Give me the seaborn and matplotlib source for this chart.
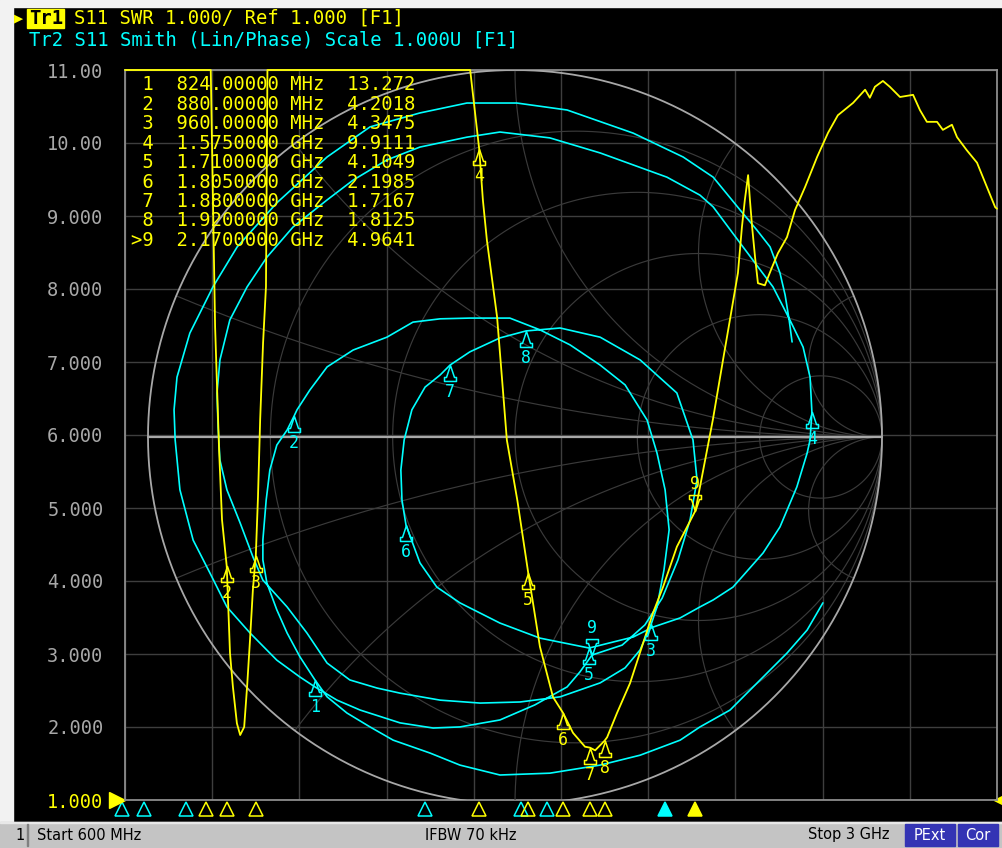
import numpy as np
import matplotlib
matplotlib.use("Agg")
import matplotlib.pyplot as plt
import matplotlib.transforms as mtransforms
from matplotlib.patches import Rectangle
from matplotlib.path import Path
import seaborn as sns

W, H = 1003, 848
YELLOW = "#ffff00"
CYAN = "#00ffff"
GRID = "#3e3e3e"
MONO = ["DejaVu Sans Mono", "DejaVu Sans"]

# Tr1: SWR against frequency (MHz); values above 11 run off the top of the scale
swr_freq = [600, 700, 800, 824, 836, 848, 859, 867, 880, 889, 897, 908, 917, 928,
            936, 944, 952, 960, 966, 972, 980, 988, 992, 1100, 1300, 1500, 1550,
            1575, 1585, 1596, 1624, 1638, 1651, 1680, 1710, 1742, 1778, 1805, 1833,
            1866, 1880, 1894, 1920, 1927, 1954, 1990, 2026, 2053, 2081, 2119, 2170,
            2218, 2246, 2265, 2287, 2298, 2306, 2315, 2320, 2326, 2334, 2342, 2361,
            2381, 2397, 2422, 2444, 2472, 2505, 2535, 2562, 2604, 2637, 2650, 2664,
            2686, 2705, 2733, 2769, 2788, 2807, 2835, 2851, 2876, 2890, 2917, 2945,
            2972, 2995, 3000]
swr_value = [15.0, 16.0, 14.5, 13.272, 11.8, 7.48, 5.79, 4.84, 4.2018, 3.01, 2.55,
             2.05, 1.89, 2.00, 2.55, 3.19, 3.88, 4.3475, 5.15, 6.21, 7.26, 8.03, 11.5,
             14.0, 15.0, 13.0, 11.0, 9.9111, 9.22, 8.67, 7.62, 6.75, 5.93, 5.10,
             4.1049, 3.10, 2.41, 2.1985, 1.92, 1.73, 1.7167, 1.68, 1.8125, 1.86, 2.19,
             2.60, 3.15, 3.56, 3.92, 4.47, 4.9641, 6.21, 7.03, 7.58, 8.22, 8.85, 9.22,
             9.56, 9.22, 8.85, 8.44, 8.08, 8.05, 8.30, 8.49, 8.71, 9.08, 9.40, 9.81,
             10.14, 10.38, 10.55, 10.73, 10.62, 10.77, 10.85, 10.77, 10.63, 10.66,
             10.45, 10.29, 10.29, 10.18, 10.25, 10.08, 9.90, 9.73, 9.40, 9.12, 9.10]

# Tr2: S11 reflection coefficient on the Smith chart (real, imaginary), in sweep order
s11_re = [0.839, 0.796, 0.741, 0.695, 0.632, 0.586, 0.504, 0.450, 0.341, 0.232, 0.095,
          -0.041, -0.150, -0.232, -0.332, -0.395, -0.458, -0.512, -0.545, -0.586,
          -0.621, -0.649, -0.676, -0.687, -0.687, -0.678, -0.668, -0.649, -0.621,
          -0.602, -0.594, -0.559, -0.512, -0.441, -0.349, -0.278, -0.204, -0.123,
          -0.014, 0.068, 0.150, 0.232, 0.300, 0.360, 0.387, 0.409, 0.420, 0.406,
          0.387, 0.371,
          0.341, 0.300, 0.232, 0.123, 0.014, -0.095, -0.204, -0.313, -0.376, -0.450,
          -0.512, -0.567, -0.621, -0.687, -0.714, -0.749, -0.785, -0.804, -0.809,
          -0.812, -0.804, -0.777, -0.730, -0.676, -0.605, -0.512, -0.441, -0.349,
          -0.259, -0.131, -0.041, 0.095, 0.232, 0.414, 0.504, 0.540, 0.613, 0.703,
          0.749, 0.785, 0.804, 0.809,
          0.804, 0.796, 0.768, 0.722, 0.676, 0.594, 0.540, 0.504, 0.450, 0.376, 0.322,
          0.202, 0.068, -0.041, -0.150, -0.213, -0.259, -0.297, -0.308, -0.311,
          -0.302, -0.281, -0.245, -0.204, -0.177, -0.123, -0.041, 0.030, 0.123,
          0.232, 0.341, 0.441, 0.485, 0.496, 0.477, 0.444, 0.401, 0.354, 0.292, 0.210,
          0.177, 0.142, 0.054, -0.041, -0.150, -0.223, -0.313, -0.422, -0.485, -0.545,
          -0.586, -0.649, -0.722, -0.785, -0.831, -0.877, -0.913, -0.926, -0.929,
          -0.921, -0.886, -0.823, -0.757, -0.649, -0.512, -0.395, -0.259, -0.131,
          0.005, 0.142, 0.322, 0.458, 0.540, 0.613, 0.659, 0.695, 0.722, 0.736, 0.747,
          0.755]
s11_im = [-0.452, -0.526, -0.589, -0.635, -0.698, -0.744, -0.790, -0.826, -0.867,
          -0.894, -0.916, -0.921, -0.894, -0.861, -0.826, -0.790, -0.752, -0.708,
          -0.662, -0.599, -0.534, -0.471, -0.398, -0.335, -0.281, -0.172, -0.090,
          -0.022, 0.019, 0.057, 0.074, 0.128, 0.191, 0.237, 0.272, 0.313, 0.322, 0.324,
          0.324, 0.292, 0.251, 0.196, 0.142, 0.046, -0.044, -0.144, -0.253, -0.362,
          -0.463, -0.510,
          -0.580, -0.629, -0.670, -0.708, -0.722, -0.725, -0.717, -0.698, -0.684,
          -0.662, -0.616, -0.534, -0.463, -0.390, -0.327, -0.234, -0.144, -0.063,
          0.027, 0.120, 0.210, 0.319, 0.409, 0.490, 0.572, 0.646, 0.700, 0.755, 0.790,
          0.817, 0.831, 0.815, 0.774, 0.708, 0.659, 0.627, 0.529, 0.409, 0.319, 0.245,
          0.163, 0.068,
          -0.008, -0.044, -0.136, -0.245, -0.316, -0.409, -0.444, -0.463, -0.493,
          -0.518, -0.545, -0.575, -0.548, -0.507, -0.452, -0.409, -0.343, -0.240,
          -0.172, -0.090, -0.008, 0.074, 0.136, 0.169, 0.196, 0.232, 0.270, 0.289,
          0.297, 0.272, 0.210, 0.120, -0.008, -0.117, -0.226, -0.335, -0.439, -0.512,
          -0.567, -0.594,
          -0.640, -0.681, -0.730, -0.771, -0.790, -0.793, -0.779, -0.744, -0.717,
          -0.681, -0.654, -0.608, -0.534, -0.463, -0.371, -0.281, -0.144, -0.008,
          0.074, 0.163, 0.283, 0.409, 0.518, 0.638, 0.763, 0.845, 0.883, 0.910, 0.910,
          0.891, 0.828, 0.763, 0.708, 0.619, 0.564, 0.518, 0.447, 0.387, 0.319, 0.259]

# marker table
marker_ids = ["1", "2", "3", "4", "5", "6", "7", "8", ">9"]
marker_freq_text = ["824.00000 MHz", "880.00000 MHz", "960.00000 MHz",
                    "1.5750000 GHz", "1.7100000 GHz", "1.8050000 GHz",
                    "1.8800000 GHz", "1.9200000 GHz", "2.1700000 GHz"]
marker_freq = [824, 880, 960, 1575, 1710, 1805, 1880, 1920, 2170]
marker_swr = [13.272, 4.2018, 4.3475, 9.9111, 4.1049, 2.1985, 1.7167, 1.8125, 4.9641]
marker_re = [-0.545, -0.602, 0.371, 0.809, 0.202, -0.297, -0.177, 0.030, 0.210]
marker_im = [-0.662, 0.057, -0.510, 0.068, -0.575, -0.240, 0.196, 0.289, -0.594]
active_marker = 8
tr2_bar_freq = [592, 652, 768, 1426, 1690, 1761, 2086]

y_ticks = [1, 2, 3, 4, 5, 6, 7, 8, 9, 10, 11]
y_tick_labels = ["1.000", "2.000", "3.000", "4.000", "5.000", "6.000", "7.000",
                 "8.000", "9.000", "10.00", "11.00"]
smith_r = [0.2, 0.5, 1, 2, 5]
smith_x = [0.2, 0.5, 1, 2, 5]


def fx(px):
    return px / W


def fy(py):
    return 1 - py / H


sns.set_theme(style="dark", rc={
    "figure.facecolor": "black",
    "axes.facecolor": "black",
    "axes.edgecolor": "#8c8c8c",
    "axes.grid": True,
    "grid.color": GRID,
    "grid.linewidth": 1.0,
})
plt.rcParams["font.family"] = MONO

fig = plt.figure(figsize=(W / 100, H / 100), dpi=100)
fig.patch.set_facecolor("black")

# screenshot border strips
fig.add_artist(Rectangle((0, fy(822)), fx(13), 1 - fy(822), transform=fig.transFigure,
                         color="#f2f2f2", zorder=0))
fig.add_artist(Rectangle((0, fy(7)), 1, 7 / H, transform=fig.transFigure,
                         color="#f2f2f2", zorder=0))

rect = [fx(125), fy(800), (997 - 125) / W, (800 - 70) / H]

# rectangular SWR grid (bottom layer)
ax = fig.add_axes(rect)
ax.set_xlim(600, 3000)
ax.set_ylim(1, 11)
ax.set_xticks(np.arange(600, 3001, 240))
ax.set_xticklabels([])
ax.set_yticks(y_ticks)
ax.set_yticklabels(y_tick_labels, fontsize=13.4, family=MONO)
ax.tick_params(length=0, pad=15.5)
for lbl in ax.get_yticklabels():
    lbl.set_color(YELLOW if lbl.get_text() == "1.000" else "#a8a8a8")
ax.grid(True, color=GRID, lw=1.0)
for sp in ax.spines.values():
    sp.set_color("#8c8c8c")
    sp.set_linewidth(1.3)

# Smith chart overlay, 1 unit of reflection = 367 screen px, centre at (515, 437)
cx, cy, rad = 515, 437, 367
sax = fig.add_axes(rect)
sax.patch.set_alpha(0)
sax.set_xlim((125 - cx) / rad, (997 - cx) / rad)
sax.set_ylim((cy - 800) / rad, (cy - 70) / rad)
sax.axis("off")

t = np.linspace(0, 2 * np.pi, 721)
for r in smith_r:
    c0, rr = r / (1 + r), 1 / (1 + r)
    sax.plot(c0 + rr * np.cos(t), rr * np.sin(t), color="#3a3a3a", lw=0.85, zorder=1)
res = np.concatenate([[0], np.logspace(-3, 3.5, 600)])
for x in smith_x:
    g = (res + 1j * x - 1) / (res + 1j * x + 1)
    for sgn in (1, -1):
        sax.plot(g.real, sgn * g.imag, color="#3a3a3a", lw=0.85, zorder=1)
sax.plot(np.cos(t), np.sin(t), color="#a8a8a8", lw=1.3, zorder=1.5)
sax.plot([-1, 1], [0, 0], color="#a8a8a8", lw=1.6, zorder=1.5)

sns.lineplot(x=s11_re, y=s11_im, sort=False, estimator=None, color=CYAN, lw=1.2,
             ax=sax, zorder=3)

# SWR trace drawn over the Smith trace, in SWR coordinates
swr_shown = np.clip(swr_value, 1, 11)
sns.lineplot(x=swr_freq, y=swr_shown, sort=False, estimator=None, color=YELLOW,
             lw=1.3, ax=sax, transform=ax.transData, zorder=4)
sax.lines[-1].set_clip_on(False)
sax.set_xlim((125 - cx) / rad, (997 - cx) / rad)
sax.set_ylim((cy - 800) / rad, (cy - 70) / rad)

# marker symbols
flask_up = Path([(0, 0), (-4, -12), (-6, -12), (-6, -16), (6, -16), (6, -12),
                 (4, -12), (0, 0)], closed=True)
flask_dn = Path([(0, 0), (-4, 12), (-6, 12), (-6, 16), (6, 16), (6, 12),
                 (4, 12), (0, 0)], closed=True)


def draw_marker(axis, xv, yv, label, color, active, transform):
    shape = flask_dn if active else flask_up
    axis.plot([xv], [yv], marker=shape, ms=23, mfc="none", mec=color, mew=1.1,
              ls="none", transform=transform, zorder=5, clip_on=False)
    axis.annotate(label, xy=(xv, yv), xycoords=transform,
                  xytext=(0, 27 if active else -27), textcoords="offset pixels",
                  ha="center", va="center", color=color, fontsize=12, family=MONO,
                  zorder=5)


for i, mid in enumerate(marker_ids):
    lab = mid.strip(">")
    active = i == active_marker
    draw_marker(sax, marker_re[i], marker_im[i], lab, CYAN, active, sax.transData)
    if marker_swr[i] <= 11:
        draw_marker(sax, marker_freq[i], marker_swr[i], lab, YELLOW, active, ax.transData)

# stimulus marker bar below the grid
bar = mtransforms.blended_transform_factory(ax.transData, ax.transAxes)
for i, f in enumerate(tr2_bar_freq):
    filled = i == len(tr2_bar_freq) - 1
    ax.plot([f], [-0.013], marker="^", ms=10, mec=CYAN, mfc=CYAN if filled else "none",
            mew=1.1, ls="none", transform=bar, clip_on=False)
for i, f in enumerate(marker_freq):
    filled = i == active_marker
    ax.plot([f], [-0.013], marker="^", ms=10, mec=YELLOW,
            mfc=YELLOW if filled else "none", mew=1.1, ls="none", transform=bar,
            clip_on=False)

# reference level pointers
ref = mtransforms.blended_transform_factory(ax.transAxes, ax.transData)
ax.plot([-0.009], [1], marker=">", ms=12, color=YELLOW, transform=ref, clip_on=False)
ax.plot([1.006], [1], marker="<", ms=12, color=YELLOW, transform=ref, clip_on=False)

# marker readout table
for i, mid in enumerate(marker_ids):
    row = f"{mid:>2}  {marker_freq_text[i]}  {marker_swr[i]:>6.5g}"
    fig.text(fx(131), fy(85 + i * 19.4), row, color=YELLOW, fontsize=13.6,
             family=MONO, va="center", ha="left", zorder=6)

# trace header: active trace name shown inverted
char_w = 0.602 * 13.6 * 100 / 72
fig.text(fx(14), fy(18), "\u25b6", color=YELLOW, fontsize=11, family=MONO, va="center")
fig.add_artist(Rectangle((fx(27), fy(28)), (64 - 27) / W, 19 / H,
                         transform=fig.transFigure, color=YELLOW, zorder=1))
fig.text(fx(29), fy(18), "Tr1", color="black", fontsize=13.6, family=MONO,
         va="center", fontweight="bold")
fig.text(fx(29 + 4 * char_w), fy(18), "S11 SWR 1.000/ Ref 1.000 [F1]", color=YELLOW,
         fontsize=13.6, family=MONO, va="center")
fig.text(fx(29), fy(40), "Tr2 S11 Smith (Lin/Phase) Scale 1.000U [F1]", color=CYAN,
         fontsize=13.6, family=MONO, va="center")

# status bar
fig.add_artist(Rectangle((0, 0), 1, 26 / H, transform=fig.transFigure,
                         color="#c4c4c4", zorder=1))
fig.add_artist(Rectangle((0, 25 / H), 1, 1 / H, transform=fig.transFigure,
                         color="#e8e8e8", zorder=1))
fig.add_artist(Rectangle((fx(27), 2 / H), 1 / W, 22 / H, transform=fig.transFigure,
                         color="#808080", zorder=2))
for fig_x, txt in [(15, "1"), (37, "Start 600 MHz"), (425, "IFBW 70 kHz"),
                   (808, "Stop 3 GHz")]:
    fig.text(fx(fig_x), fy(835), txt, color="black", fontsize=10.5,
             family=["DejaVu Sans"], va="center", ha="left", zorder=3)
for x0, x1, txt in [(905, 955, "PExt"), (958, 998, "Cor")]:
    fig.add_artist(Rectangle((fx(x0), fy(846)), (x1 - x0) / W, 22 / H,
                             transform=fig.transFigure, color="#3434b4", zorder=2))
    fig.text(fx((x0 + x1) / 2), fy(835), txt, color="white", fontsize=10.5,
             family=["DejaVu Sans"], va="center", ha="center", zorder=3)

fig.savefig("out.png", dpi=100, facecolor="black")
